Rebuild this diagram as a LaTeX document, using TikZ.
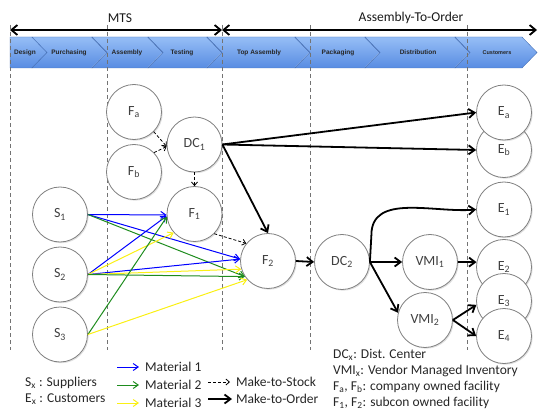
\documentclass[tikz,border=0pt]{standalone}
\usepackage{fontspec}
\setmainfont{Carlito}
\newfontfamily\chevfont{Liberation Sans}
\usetikzlibrary{arrows.meta,shadows}
\newcommand\sbs[1]{\textsubscript{#1}}
\definecolor{mblue}{RGB}{0,0,255}
\definecolor{mgreen}{RGB}{30,140,30}
\definecolor{myellow}{RGB}{250,240,20}
\definecolor{chtop}{RGB}{150,190,246}
\definecolor{chbot}{RGB}{88,140,226}
\definecolor{chdark}{RGB}{60,90,150}
\definecolor{nodetext}{RGB}{64,64,64}
\begin{document}
\begin{tikzpicture}[x=1pt,y=-1pt,
  nd/.style={circle,draw=black!50,line width=0.8pt,fill=white,minimum size=55pt,inner sep=0pt,
    font=\fontsize{14}{16}\selectfont,text=nodetext,
    drop shadow={shadow xshift=1.2pt,shadow yshift=-1.2pt,opacity=0.25}},
  chev/.style={top color=chtop,bottom color=chbot,draw=chbot!80!black,line width=0.4pt},
  chlab/.style={font=\chevfont\bfseries\fontsize{6.5}{7}\selectfont,text=black!85},
  vline/.style={draw=black!55,line width=0.9pt,dash pattern=on 4pt off 3pt},
  mat/.style={line width=1pt,-{Straight Barb[length=5pt,width=7pt]}},
  mto/.style={line width=1.8pt,-{Straight Barb[length=6pt,width=9pt]}},
  mts/.style={line width=0.8pt,dash pattern=on 3pt off 2pt,-{Straight Barb[length=3.5pt,width=6pt]}},
  lg/.style={font=\fontsize{13.5}{15}\selectfont,text=black!85,anchor=west,inner sep=0pt},
  hdr/.style={font=\fontsize{13.5}{15}\selectfont,text=black!90,inner sep=0pt}
  ]
\useasboundingbox (0,0) rectangle (539,412);

% chevron band
\path[chev] (10,37) -- (32,37) -- (47,52.5) -- (32,68) -- (10,68) -- cycle;
\node[chlab] (lDesign) at (25,52.5) {Design};
\foreach \a/\b/\lab/\cx in {47/107/Purchasing/69, 107/163/Assembly/127, 163/222/Testing/182,
   222/310/Top Assembly/259, 310/380/Packaging/338, 380/470/Distribution/418}{
  \path[chev] ({\a-15},37) -- ({\b-15},37) -- (\b,52.5) -- ({\b-15},68) -- ({\a-15},68) -- (\a,52.5) -- cycle;
  \draw[chdark,line width=0.7pt] ({\b-15},37) -- (\b,52.5);
  \draw[white,line width=0.7pt,opacity=0.7] (\b,52.5) -- ({\b-15},68);
  \node[chlab] at (\cx,52.5) {\lab};
}
\path[chev] (455,37) -- (522,37) -- (537,52.5) -- (522,68) -- (455,68) -- (470,52.5) -- cycle;
\node[chlab,font=\chevfont\bfseries\fontsize{5.5}{6}\selectfont] (lCust) at (497,52.5) {Customers};

% top arrows
\coordinate (t0) at (10,30);
\coordinate (t1) at (222,30);
\coordinate (t2) at (537,30);
\draw[line width=1.8pt,{Straight Barb[length=6pt,width=10pt]}-{Straight Barb[length=6pt,width=10pt]}] (t0) -- (t1);
\draw[line width=1.8pt,{Straight Barb[length=6pt,width=10pt]}-{Straight Barb[length=6pt,width=10pt]}] (t1) -- (t2);
\node[hdr] (mtslab) at (120,18) {MTS};
\node[hdr] (atolab) at (411,18) {Assembly-To-Order};

% dashed verticals
\foreach \x in {10,107,222,310,467}{
  \draw[vline] (\x,25) -- (\x,350);
}

% nodes
\node[nd] (fa) at (134,112) {F\sbs{a}};
\node[nd] (fb) at (134,172) {F\sbs{b}};
\node[nd] (dc1) at (194.5,144.5) {DC\sbs{1}};
\node[nd] (f1) at (194.5,214) {F\sbs{1}};
\node[nd] (s1) at (60,214.5) {S\sbs{1}};
\node[nd] (s2) at (60,274.5) {S\sbs{2}};
\node[nd] (s3) at (60,334.5) {S\sbs{3}};
\node[nd] (f2) at (268,261) {F\sbs{2}};
\node[nd] (dc2) at (342,262) {DC\sbs{2}};
\node[nd] (vmi1) at (430,262) {VMI\sbs{1}};
\node[nd] (vmi2) at (425,320) {VMI\sbs{2}};
\node[nd] (eb) at (504,150) {E\sbs{b}};
\node[nd] (ea) at (504,112.5) {E\sbs{a}};
\node[nd] (e1) at (504,209.5) {E\sbs{1}};
\node[nd] (e2) at (504,267) {E\sbs{2}};
\node[nd] (e3) at (504,301) {E\sbs{3}};
\node[nd] (e4) at (504,336) {E\sbs{4}};

% material flows
\draw[mat,mblue] (s1.east) -- (f1.182);
\draw[mat,mblue] (s1.east) -- (f2.176);
\draw[mat,mgreen] (s1.east) -- (f2.214);
\draw[mat,mblue] (s2.east) -- (f1.184);
\draw[mat,mblue] (s2.east) -- (f2.176);
\draw[mat,myellow] (s2.east) -- (f1.222);
\draw[mat,myellow] (s2.east) -- (f2.197);
\draw[mat,mgreen] (s2.east) -- (f2.214);
\draw[mat,mgreen] (s3.east) -- (f1.186);
\draw[mat,myellow] (s3.east) -- (f2.222);

% make-to-stock
\draw[mts] (fa.-45) -- (dc1.184);
\draw[mts] (fb.44) -- (dc1.184);
\draw[mts] (dc1.south) -- (f1.north);
\draw[mts] (f1.-45) -- (f2.141);

% make-to-order
\draw[mto] (dc1.east) -- (ea.west);
\draw[mto] (dc1.east) -- (eb.west);
\draw[mto] (dc1.east) -- (f2.north);
\draw[mto] (f2.east) -- (dc2.west);
\draw[mto] (dc2.east) -- (vmi1.west);
\draw[mto] (dc2.east) -- (vmi2.165);
\draw[mto] (dc2.east) -- ++(1.5,-27) to[out=90,in=185] (e1.west);
\draw[mto] (vmi1.east) -- (e2.170);
\draw[mto] (vmi2.east) -- (e3.188);
\draw[mto] (vmi2.east) -- (e4.west);

% legend
\node[lg] (lsx) at (25,383) {S\sbs{x} : Suppliers};
\node[lg] (lex) at (25,399) {E\sbs{x} : Customers};
\coordinate (la1) at (117,367); \coordinate (lb1) at (139,367);
\coordinate (la2) at (117,385); \coordinate (lb2) at (139,385);
\coordinate (la3) at (117,403); \coordinate (lb3) at (139,403);
\draw[mat,mblue] (la1) -- (lb1);
\draw[mat,mgreen] (la2) -- (lb2);
\draw[mat,myellow] (la3) -- (lb3);
\node[lg] (lm1) at (145,367) {Material 1};
\node[lg] (lm2) at (145,385) {Material 2};
\node[lg] (lm3) at (145,403) {Material 3};
\coordinate (ls1) at (208,382); \coordinate (ls2) at (230,382);
\coordinate (lo1) at (208,399); \coordinate (lo2) at (232,399);
\draw[mts] (ls1) -- (ls2);
\draw[mto] (lo1) -- (lo2);
\node[lg] (lmts) at (236,382) {Make-to-Stock};
\node[lg] (lmto) at (236,399) {Make-to-Order};
\node[lg] (ldc) at (333,355) {DC\sbs{x}: Dist. Center};
\node[lg] (lvmi) at (333,371) {VMI\sbs{x}: Vendor Managed Inventory};
\node[lg] (lfab) at (333,387) {F\sbs{a}, F\sbs{b}: company owned facility};
\node[lg] (lf12) at (333,403) {F\sbs{1}, F\sbs{2}: subcon owned facility};
\end{tikzpicture}
\end{document}
